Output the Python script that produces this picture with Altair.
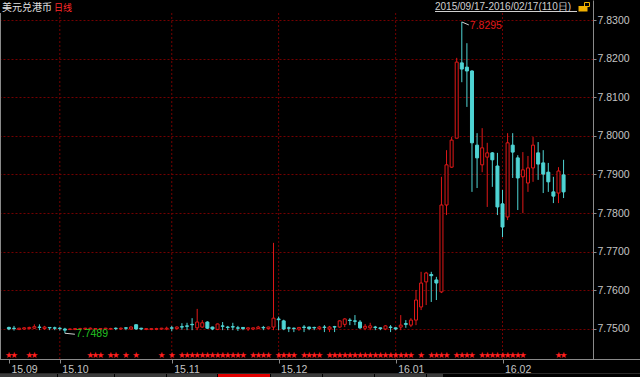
import altair as alt
import pandas as pd

# ---------------- data ----------------
opens = [7.7504, 7.7502, 7.7499, 7.7500, 7.7501, 7.7502, 7.7505, 7.7501, 7.7504, 7.7503,
         7.7502, 7.7500, 7.7499, 7.7499, 7.7499, 7.7500, 7.7500, 7.7500, 7.7499, 7.7500,
         7.7500, 7.7502, 7.7500, 7.7503, 7.7500, 7.7511, 7.7502, 7.7499, 7.7499, 7.7499,
         7.7500, 7.7500, 7.7503, 7.7501, 7.7506, 7.7508, 7.7512, 7.7503, 7.7505, 7.7518,
         7.7505, 7.7499, 7.7508, 7.7505, 7.7506, 7.7503, 7.7504, 7.7500, 7.7500, 7.7501,
         7.7504, 7.7501, 7.7505, 7.7526, 7.7521, 7.7503, 7.7502, 7.7500, 7.7505, 7.7505,
         7.7504, 7.7501, 7.7505, 7.7500, 7.7506, 7.7505, 7.7512, 7.7523, 7.7521, 7.7518,
         7.7502, 7.7503, 7.7505, 7.7503, 7.7500, 7.7505, 7.7503, 7.7505, 7.7514, 7.7510,
         7.7523, 7.7557, 7.7622, 7.7641, 7.7627, 7.7596, 7.7821, 7.7919, 7.7994, 7.8189,
         7.8178, 7.8168, 7.7976, 7.7925, 7.7945, 7.7956, 7.7922, 7.7824, 7.7790, 7.7976,
         7.7943, 7.7894, 7.7878, 7.7917, 7.7956, 7.7930, 7.7906, 7.7855, 7.7852, 7.7899]
highs = [7.7506, 7.7508, 7.7503, 7.7505, 7.7506, 7.7512, 7.7512, 7.7508, 7.7505, 7.7506,
         7.7505, 7.7503, 7.7501, 7.7502, 7.7503, 7.7503, 7.7504, 7.7502, 7.7502, 7.7503,
         7.7503, 7.7504, 7.7504, 7.7505, 7.7507, 7.7512, 7.7503, 7.7502, 7.7502, 7.7503,
         7.7503, 7.7506, 7.7508, 7.7507, 7.7515, 7.7516, 7.7528, 7.7552, 7.7523, 7.7520,
         7.7506, 7.7514, 7.7518, 7.7508, 7.7516, 7.7508, 7.7505, 7.7505, 7.7504, 7.7508,
         7.7508, 7.7506, 7.7723, 7.7532, 7.7524, 7.7506, 7.7504, 7.7505, 7.7510, 7.7506,
         7.7506, 7.7508, 7.7510, 7.7508, 7.7508, 7.7522, 7.7528, 7.7528, 7.7536, 7.7523,
         7.7513, 7.7516, 7.7508, 7.7504, 7.7510, 7.7510, 7.7504, 7.7536, 7.7523, 7.7528,
         7.7601, 7.7648, 7.7648, 7.7648, 7.7635, 7.7894, 7.7963, 7.7997, 7.8202, 7.8295,
         7.8240, 7.8170, 7.8007, 7.8020, 7.7982, 7.7958, 7.7956, 7.7860, 7.8007, 7.8007,
         7.7950, 7.7958, 7.7948, 7.7997, 7.7984, 7.7963, 7.7930, 7.7894, 7.7919, 7.7938]
lows = [7.7497, 7.7496, 7.7497, 7.7498, 7.7499, 7.7500, 7.7497, 7.7498, 7.7497, 7.7497,
        7.7496, 7.7489, 7.7497, 7.7497, 7.7498, 7.7498, 7.7498, 7.7498, 7.7497, 7.7498,
        7.7498, 7.7497, 7.7498, 7.7497, 7.7498, 7.7498, 7.7497, 7.7497, 7.7497, 7.7497,
        7.7498, 7.7497, 7.7494, 7.7499, 7.7498, 7.7497, 7.7497, 7.7497, 7.7503, 7.7500,
        7.7497, 7.7497, 7.7497, 7.7497, 7.7497, 7.7495, 7.7497, 7.7495, 7.7497, 7.7500,
        7.7497, 7.7499, 7.7497, 7.7497, 7.7497, 7.7492, 7.7492, 7.7495, 7.7492, 7.7497,
        7.7497, 7.7497, 7.7492, 7.7492, 7.7492, 7.7503, 7.7505, 7.7510, 7.7510, 7.7500,
        7.7497, 7.7497, 7.7497, 7.7497, 7.7497, 7.7492, 7.7497, 7.7497, 7.7503, 7.7505,
        7.7510, 7.7549, 7.7562, 7.7570, 7.7575, 7.7593, 7.7795, 7.7917, 7.7994, 7.8139,
        7.8075, 7.7855, 7.7865, 7.7906, 7.7816, 7.7868, 7.7795, 7.7738, 7.7782, 7.7891,
        7.7808, 7.7800, 7.7855, 7.7881, 7.7886, 7.7852, 7.7855, 7.7826, 7.7826, 7.7839]
closes = [7.7500, 7.7501, 7.7502, 7.7503, 7.7504, 7.7506, 7.7504, 7.7505, 7.7503, 7.7502,
          7.7501, 7.7497, 7.7500, 7.7501, 7.7501, 7.7502, 7.7502, 7.7501, 7.7501, 7.7502,
          7.7501, 7.7501, 7.7502, 7.7502, 7.7505, 7.7500, 7.7500, 7.7501, 7.7501, 7.7501,
          7.7502, 7.7502, 7.7502, 7.7505, 7.7505, 7.7507, 7.7511, 7.7518, 7.7516, 7.7502,
          7.7500, 7.7513, 7.7507, 7.7504, 7.7505, 7.7502, 7.7501, 7.7503, 7.7503, 7.7505,
          7.7503, 7.7505, 7.7528, 7.7524, 7.7500, 7.7502, 7.7501, 7.7504, 7.7504, 7.7501,
          7.7503, 7.7505, 7.7504, 7.7505, 7.7505, 7.7521, 7.7526, 7.7522, 7.7520, 7.7503,
          7.7507, 7.7508, 7.7504, 7.7501, 7.7508, 7.7504, 7.7500, 7.7510, 7.7512, 7.7523,
          7.7575, 7.7619, 7.7645, 7.7638, 7.7619, 7.7821, 7.7925, 7.7989, 7.8191, 7.8173,
          7.8168, 7.7982, 7.7943, 7.7969, 7.7956, 7.7938, 7.7816, 7.7764, 7.7982, 7.7958,
          7.7891, 7.7912, 7.7917, 7.7976, 7.7927, 7.7901, 7.7881, 7.7844, 7.7909, 7.7855]

star_days = [0, 1, 4, 5, 16, 17, 18, 20, 21, 23, 25, 30, 32,
             34, 35, 36, 37, 38, 39, 40, 41, 42, 43, 44, 45, 46,
             48, 49, 50, 51, 53, 54, 55, 56, 58, 59, 60, 61,
             63, 64, 65, 66, 67, 68, 69, 70, 71, 72, 73, 74, 75, 76, 77, 78, 79,
             81, 83, 84, 85, 86, 88, 89, 90, 91,
             93, 94, 95, 96, 97, 98, 99, 100, 101, 108, 109]

month_start = [0, 10, 32, 53, 76, 97]
month_labels = ["15.09", "15.10", "15.11", "15.12", "16.01", "16.02"]
y_ticks = [7.75, 7.76, 7.77, 7.78, 7.79, 7.80, 7.81, 7.82, 7.83]

title_text = "美元兑港币"
period_text = "日线"
range_text = "2015/09/17-2016/02/17(110日)"

# ---------------- styles ----------------
RED = "#e01818"
CYAN = "#4fd4d4"
GRID = "#740000"
AXIS = "#8a8a8a"
LABEL = "#c4c4c4"
FONT = "Liberation Sans"
W, H = 593, 359

n = len(opens)
df = pd.DataFrame({"i": list(range(n)), "o": opens, "h": highs, "l": lows, "c": closes})
df["dir"] = ["up" if c > o else "down" for o, c in zip(opens, closes)]

hi_i = int(df["h"].idxmax())
lo_i = int(df["l"].idxmin())
hi_df = pd.DataFrame({"i": [hi_i], "v": [df["h"][hi_i]], "t": [f"{df['h'][hi_i]:.4f}"]})
lo_df = pd.DataFrame({"i": [lo_i], "v": [df["l"][lo_i]], "t": [f"{df['l'][lo_i]:.4f}"]})

xs = alt.Scale(domain=[-0.77, 113.8], nice=False, zero=False)
ys = alt.Scale(domain=[7.74223, 7.83518], nice=False, zero=False)
color_scale = alt.Scale(domain=["up", "down"], range=[RED, CYAN])

label_expr = " : ".join(
    f"datum.value == {v} ? '{t}'" for v, t in zip(month_start, month_labels)
) + " : ''"

X_AXIS = alt.Axis(values=month_start, labelExpr=label_expr, labelAlign="left",
                  labelBaseline="top", labelOffset=2, labelPadding=1, labelColor=LABEL,
                  labelFont=FONT, labelFontSize=10.5, tickSize=4, tickColor=AXIS,
                  domain=False, grid=False, labelOverlap=False, labelFlush=False, title=None)
Y_AXIS = alt.Axis(orient="right", values=y_ticks, format=".4f", labelColor=LABEL,
                  labelFont=FONT, labelFontSize=10.5, labelPadding=1, tickSize=3,
                  tickColor=AXIS, domainColor=AXIS, grid=True, gridColor=GRID,
                  gridDash=[2, 2], labelFlush=False, title=None)


def X(f):
    return alt.X(f, type="quantitative", scale=xs, axis=X_AXIS)


def Y(f):
    return alt.Y(f, type="quantitative", scale=ys, axis=Y_AXIS)


months_df = pd.DataFrame({"i": month_start[1:]})
vgrid = alt.Chart(months_df).mark_rule(color=GRID, strokeDash=[2, 2], strokeWidth=1).encode(
    x=X("i"), y=alt.value(13), y2=alt.value(H),
)

wicks = alt.Chart(df).mark_rule(strokeWidth=1).encode(
    x=X("i"), y=Y("l"), y2="h:Q",
    color=alt.Color("dir:N", scale=color_scale, legend=None),
)

bodies = alt.Chart(df).mark_bar(size=3, strokeWidth=1).encode(
    x=X("i"), y=Y("o"), y2="c:Q",
    fill=alt.condition("datum.dir == 'up'", alt.value("#000000"), alt.value(CYAN)),
    stroke=alt.Color("dir:N", scale=color_scale, legend=None),
)

stars = alt.Chart(pd.DataFrame({"i": star_days})).mark_text(
    text="★", color="#ff1e1e", fontSize=8.6, font="DejaVu Sans", baseline="middle"
).encode(x=X("i"), y=alt.value(355))

hi_line = alt.Chart(hi_df).mark_rule(color="#d0d0d0", strokeWidth=1, x2Offset=7, y2Offset=3).encode(
    x=X("i"), x2="i:Q", y=Y("v"), y2="v:Q")
hi_text = alt.Chart(hi_df).mark_text(color=RED, align="left", baseline="middle", dx=8, dy=4,
                                      font=FONT, fontSize=10.5).encode(
    x=X("i"), y=Y("v"), text="t:N")
lo_line = alt.Chart(lo_df).mark_rule(color="#d0d0d0", strokeWidth=1, x2Offset=10, y2Offset=1).encode(
    x=X("i"), x2="i:Q", y=Y("v"), y2="v:Q")
lo_text = alt.Chart(lo_df).mark_text(color="#22c422", align="left", baseline="middle", dx=11, dy=1,
                                      font=FONT, fontSize=10.5).encode(
    x=X("i"), y=Y("v"), text="t:N")

# ---------------- chrome / decoration ----------------
one = pd.DataFrame({"a": [0]})


def txt(s, x, y, color, size, font, align="left"):
    return alt.Chart(one).mark_text(text=s, color=color, fontSize=size, font=font,
                                    align=align, baseline="middle").encode(
        x=alt.value(x), y=alt.value(y))


def box(x0, x1, y0, y1, fill=None, stroke=None):
    kw = {"fill": fill if fill else "transparent"}
    if stroke:
        kw["stroke"] = stroke
        kw["strokeWidth"] = 1
    return alt.Chart(one).mark_rect(**kw).encode(
        x=alt.value(x0), x2=alt.value(x1), y=alt.value(y0), y2=alt.value(y1))


def line(x0, x1, y0, y1, color):
    return alt.Chart(one).mark_rule(color=color, strokeWidth=1).encode(
        x=alt.value(x0), x2=alt.value(x1), y=alt.value(y0), y2=alt.value(y1))


deco = [
    txt(title_text, 2, 7.5, "#e0e0e0", 10, "Noto Sans CJK SC"),
    txt(period_text, 54, 7.5, "#ff2a2a", 9, "Noto Sans CJK SC"),
    txt(range_text, 435, 6.5, "#d0d0d0", 10, FONT),
    line(435, 577, 11.5, 11.5, "#d0d0d0"),
    box(578.5, 587.5, 6, 11.5, fill="#f0b000"),
    box(584.5, 589.5, 2.5, 6.5, stroke="#f0b000"),
    line(0, 640, 359.5, 359.5, AXIS),
    line(0.5, 0.5, 13, 359, AXIS),
    line(0, 640, 373.5, 373.5, "#2a2a2a"),
]
tabs = [(0, 57), (58, 114), (115, 166), (167, 217), (218, 270), (271, 322),
        (323, 374), (375, 426), (427, 443)]
for k, (a, b) in enumerate(tabs):
    deco.append(box(a, b, 374, 377, fill="#e00000" if k == 4 else "#3a3a3a"))

chart = alt.layer(vgrid, wicks, bodies, stars, hi_line, hi_text, lo_line, lo_text, *deco).properties(
    width=W, height=H,
    padding={"left": 0, "top": 0, "right": 47, "bottom": 18},
    autosize=alt.AutoSizeParams(type="none"),
    background="#000000",
).configure_view(stroke=None)

chart.save("out.html", embed_options={"renderer": "svg", "actions": False})
